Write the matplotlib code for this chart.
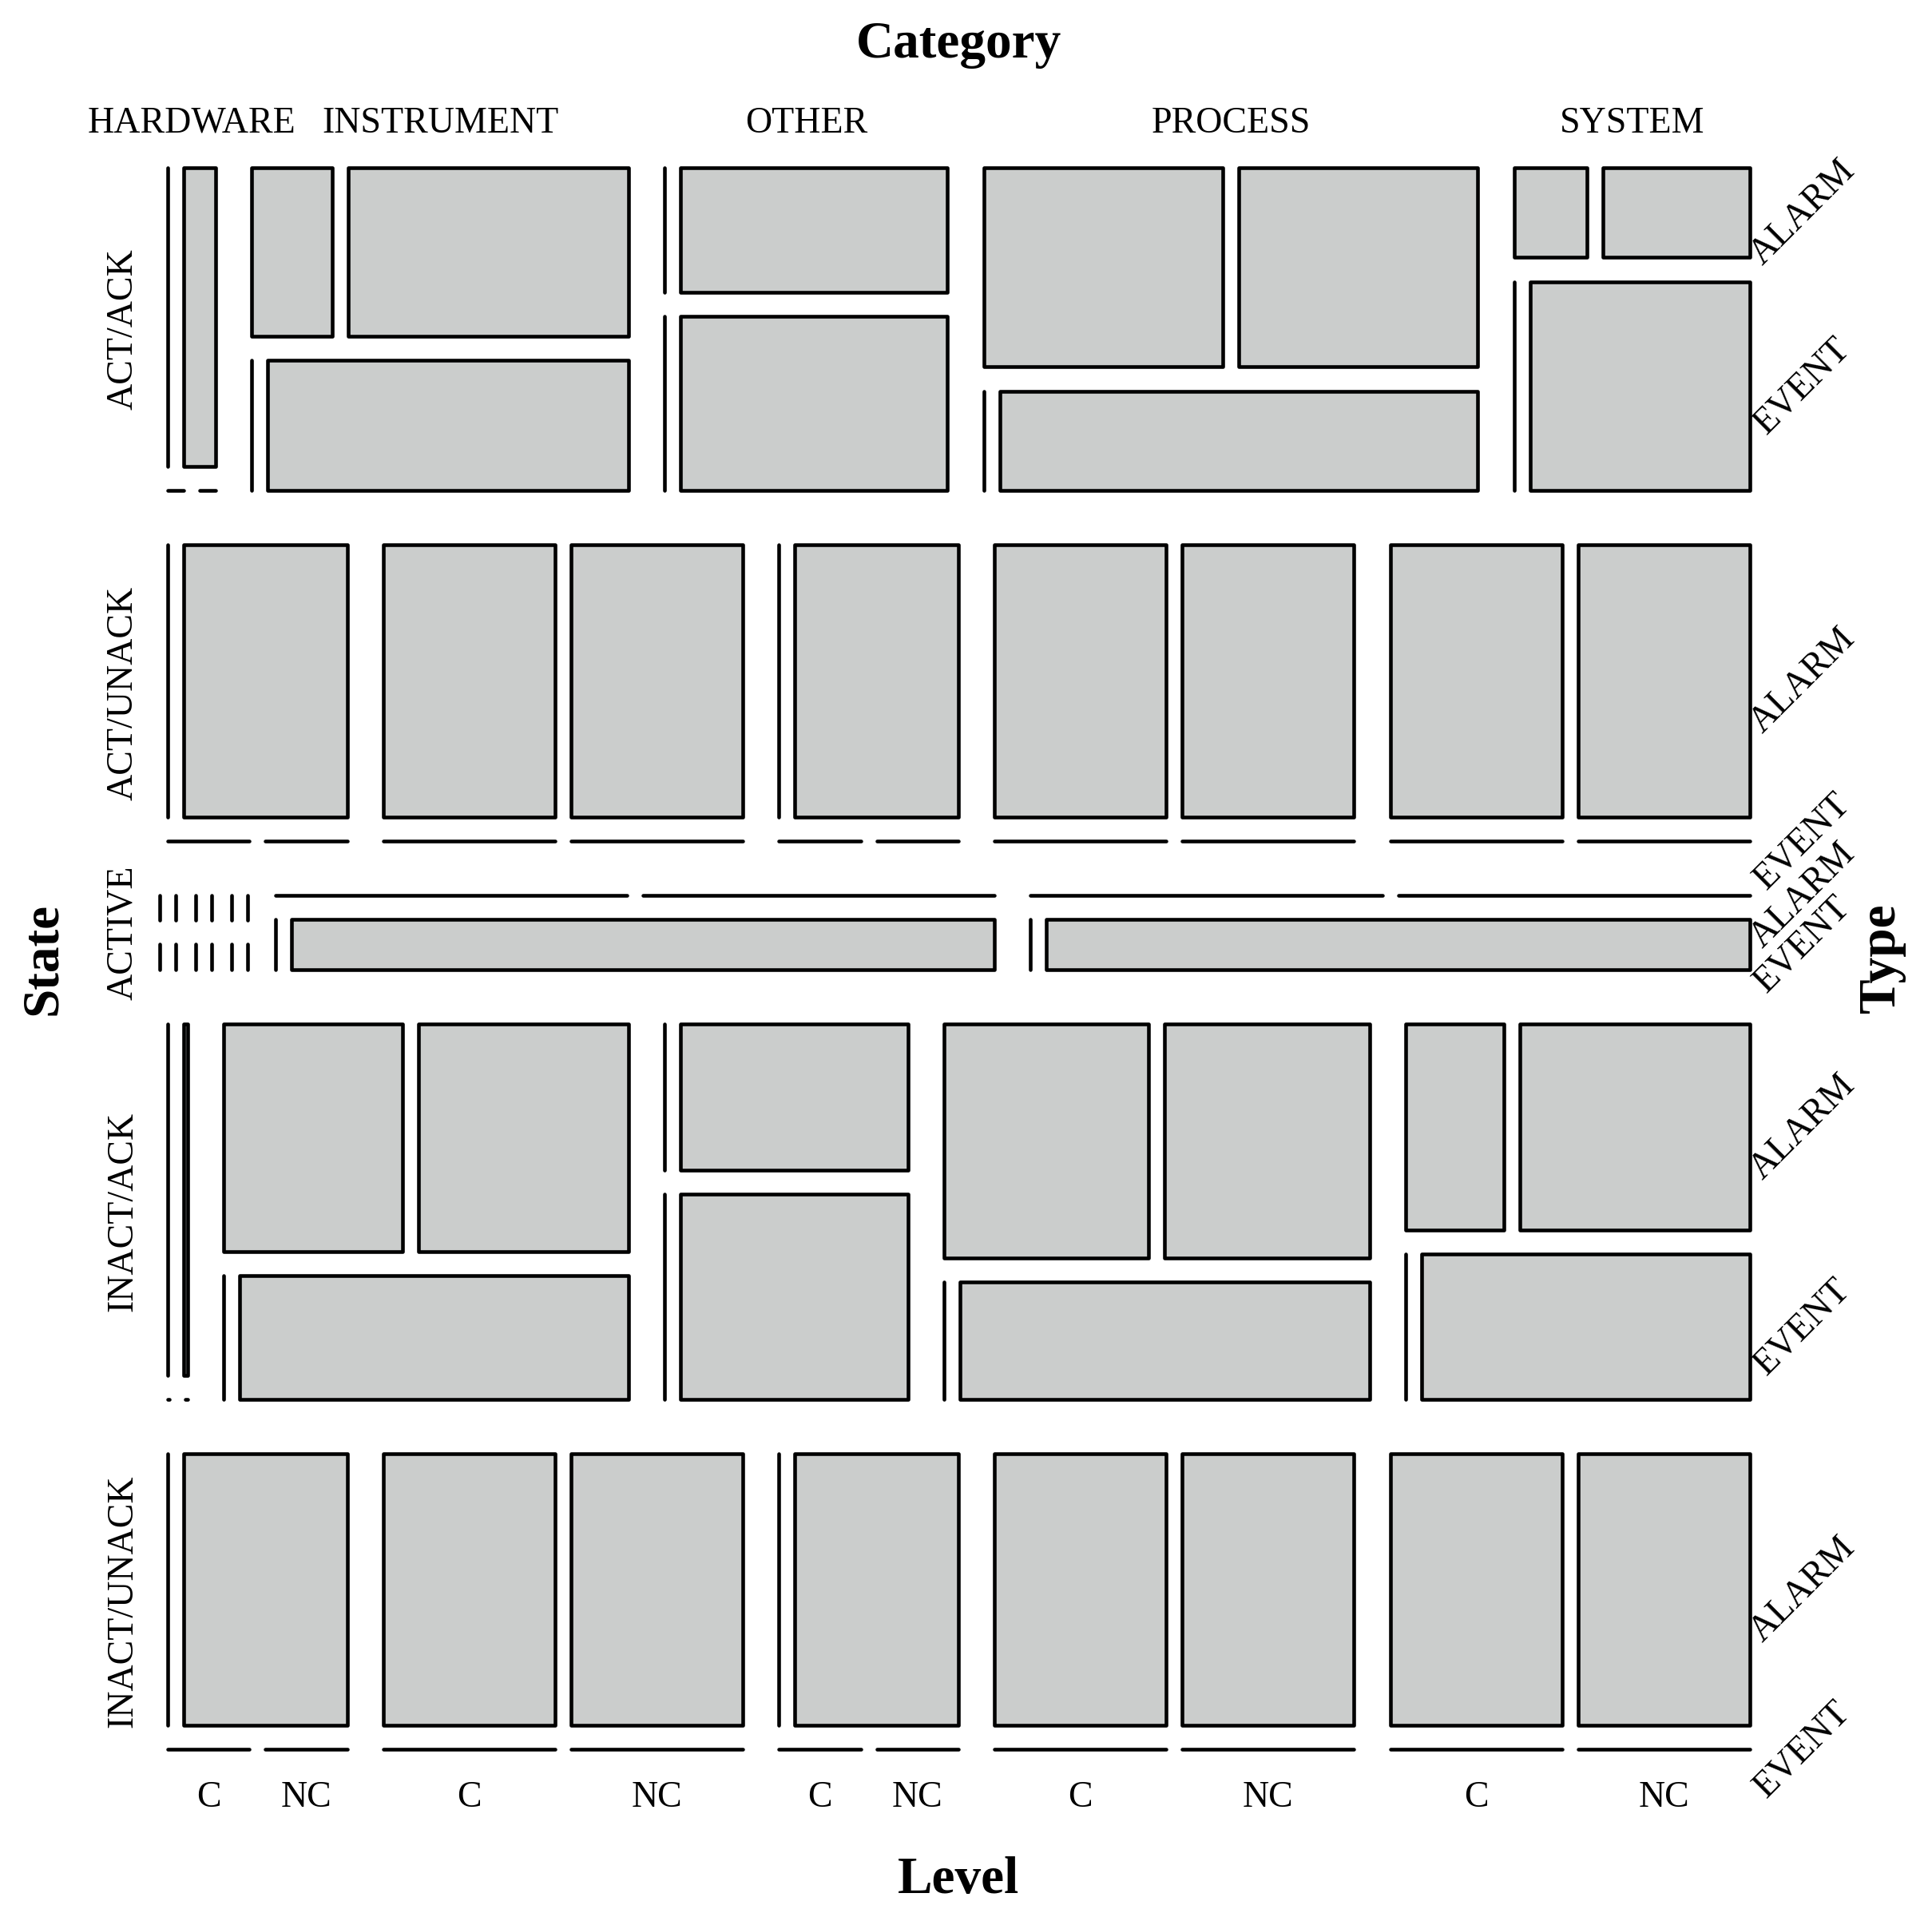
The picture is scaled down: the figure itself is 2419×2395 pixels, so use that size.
import matplotlib
matplotlib.use("Agg")
import matplotlib.pyplot as plt
import numpy as np
from matplotlib.patches import Rectangle

plt.rcParams['font.family'] = ['Liberation Serif', 'DejaVu Serif']

states = ['ACT/ACK', 'ACT/UNACK', 'ACTIVE', 'INACT/ACK', 'INACT/UNACK']
categories = ['HARDWARE', 'INSTRUMENT', 'OTHER', 'PROCESS', 'SYSTEM']
types = ['ALARM', 'EVENT']
levels = ['C', 'NC']

# counts per category: [[ALARM C, ALARM NC], [EVENT C, EVENT NC]]
act_ack = [[[0, 88], [0, 0]],
           [[86, 300], [0, 300]],
           [[0, 215], [0, 300]],
           [[300, 300], [0, 300]],
           [[43, 86], [0, 300]]]
act_unack = [[[0, 300], [0, 0]],
             [[300, 300], [0, 0]],
             [[0, 300], [0, 0]],
             [[300, 300], [0, 0]],
             [[300, 300], [0, 0]]]
active = [[[0, 0], [0, 0]],
          [[0, 0], [0, 0]],
          [[0, 0], [0, 0]],
          [[0, 0], [0, 300]],
          [[0, 0], [0, 300]]]
inact_ack = [[[0, 42], [0, 0]],
             [[256, 300], [0, 300]],
             [[0, 215], [0, 300]],
             [[300, 300], [0, 300]],
             [[128, 300], [0, 300]]]
inact_unack = [[[0, 300], [0, 0]],
               [[300, 300], [0, 0]],
               [[0, 300], [0, 0]],
               [[300, 300], [0, 0]],
               [[300, 300], [0, 0]]]

counts = np.array([act_ack, act_unack, active, inact_ack, inact_unack], dtype=float)

SIZE = 1284.0
gaps = [44.0, 29.25, 19.5, 13.0]   # state, category, type, level
fill = '#cbcdcc'


def split(start, size, vals, gap):
    vals = np.asarray(vals, dtype=float)
    n = len(vals)
    avail = size - gap * (n - 1)
    props = vals / vals.sum() if vals.sum() > 0 else np.ones(n) / n
    if avail < 0:
        sizes = np.zeros(n)
        start = start + avail / 2
    else:
        sizes = avail * props
    pos = []
    p = start
    for s in sizes:
        pos.append((p, s))
        p += s + gap
    return pos


fig = plt.figure(figsize=(24.19, 23.95), dpi=100)
ax = fig.add_axes([0.0867, 0.0854, 0.8189, 0.8270])
ax.set_xlim(0, SIZE)
ax.set_ylim(SIZE, 0)
ax.axis('off')

top_lab = []
bottom_lab = []
right_lab = []
state_pos = split(0, SIZE, counts.sum(axis=(1, 2, 3)), gaps[0])
for si, (sy, sh) in enumerate(state_pos):
    cat_pos = split(0, SIZE, counts[si].sum(axis=(1, 2)), gaps[1])
    for ci, (cx, cw) in enumerate(cat_pos):
        if si == 0:
            top_lab.append((cx + cw / 2, categories[ci]))
        type_pos = split(sy, sh, counts[si, ci].sum(axis=1), gaps[2])
        for ti, (ty, th) in enumerate(type_pos):
            if ci == len(categories) - 1:
                right_lab.append((ty + th / 2, types[ti]))
            lev_pos = split(cx, cw, counts[si, ci, ti], gaps[3])
            for li, (lx, lw) in enumerate(lev_pos):
                if si == len(states) - 1 and ti == len(types) - 1:
                    bottom_lab.append((lx + lw / 2, levels[li]))
                ax.add_patch(Rectangle((lx, ty), lw, th, facecolor=fill,
                                       edgecolor='black', linewidth=3.3,
                                       joinstyle='round', capstyle='round',
                                       clip_on=False))
    ax.text(-36, sy + sh / 2, states[si], rotation=90, ha='center', va='center',
            fontsize=33, clip_on=False)

for x, lab in top_lab:
    ax.text(x, -36, lab, ha='center', va='center', fontsize=33)
for x, lab in bottom_lab:
    ax.text(x, 1323, lab, ha='center', va='center', fontsize=33)
for y, lab in right_lab:
    ax.text(1327, y, lab, ha='center', va='center', rotation=45,
            rotation_mode='anchor', fontsize=33)

ax.text(SIZE / 2, -100, 'Category', ha='center', va='center', fontsize=47, fontweight='bold')
ax.text(SIZE / 2, 1390, 'Level', ha='center', va='center', fontsize=47, fontweight='bold')
ax.text(-101, SIZE / 2, 'State', ha='center', va='center', rotation=90, fontsize=47, fontweight='bold')
ax.text(1391, SIZE / 2, 'Type', ha='center', va='center', rotation=90, fontsize=47, fontweight='bold')

fig.savefig('out.png', dpi=100, facecolor='white')
